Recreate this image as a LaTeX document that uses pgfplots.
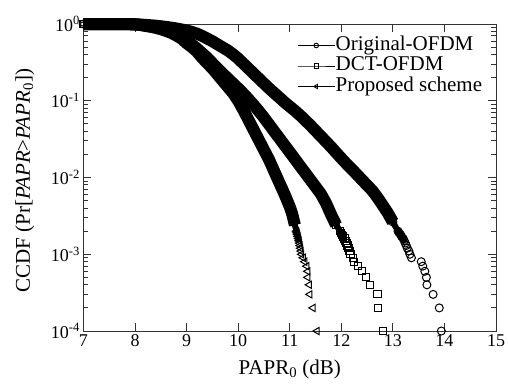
\documentclass[border=0pt]{standalone}
\usepackage{fontspec}
\setmainfont{Liberation Serif}
\usepackage{pgfplots}
\pgfplotsset{compat=1.18}
\usepackage{pgfplotstable}
\usetikzlibrary{calc}

% Original-OFDM
\pgfplotstableread{
x y
7.0 1.0
7.1 1.0
7.2 1.0
7.3 1.0
7.4 1.0
7.5 1.0
7.6 0.999
7.7 0.999
7.8 0.998
7.9 0.996
8.0 0.993
8.1 0.985
8.2 0.973
8.3 0.963
8.4 0.951
8.5 0.935
8.6 0.916
8.7 0.897
8.8 0.875
8.9 0.850
9.0 0.822
9.1 0.790
9.2 0.750
9.3 0.700
9.4 0.646
9.5 0.596
9.6 0.543
9.7 0.495
9.8 0.452
9.9 0.403
10.0 0.355
10.1 0.305
10.2 0.263
10.3 0.226
10.4 0.195
10.5 0.168
10.6 0.145
10.7 0.126
10.8 0.110
10.9 0.0955
11.0 0.0841
11.1 0.0741
11.2 0.0646
11.3 0.0556
11.4 0.0479
11.5 0.0407
11.6 0.0347
11.7 0.0295
11.8 0.0251
11.9 0.0211
12.0 0.0178
12.1 0.0151
12.2 0.0129
12.3 0.0110
12.4 0.00933
12.5 0.00794
12.6 0.00676
12.7 0.00550
12.8 0.00437
12.9 0.00347
13.0 0.00263
}\origbulk
\pgfplotstableread{
x y
13.10 0.0020
13.12 0.0019
13.15 0.0018
13.17 0.0017
13.20 0.0016
13.22 0.0015
13.24 0.0014
13.26 0.0013
13.28 0.0012
13.31 0.0011
13.33 0.0010
13.36 0.0009
13.55 0.0008
13.58 0.0007
13.62 0.0006
13.65 0.0005
13.66 0.0004
13.78 0.0003
13.90 0.0002
13.94 0.0001
}\origtail

% DCT-OFDM
\pgfplotstableread{
x y
7.0 1.0
7.1 1.0
7.2 1.0
7.3 1.0
7.4 1.0
7.5 1.0
7.6 1.0
7.7 0.999
7.8 0.997
7.9 0.994
8.0 0.985
8.1 0.975
8.2 0.955
8.3 0.933
8.4 0.912
8.5 0.883
8.6 0.851
8.7 0.813
8.8 0.767
8.9 0.692
9.0 0.617
9.1 0.543
9.2 0.479
9.3 0.417
9.4 0.363
9.5 0.309
9.6 0.263
9.7 0.226
9.8 0.195
9.9 0.168
10.0 0.145
10.1 0.124
10.2 0.105
10.3 0.0881
10.4 0.0733
10.5 0.0603
10.6 0.0490
10.7 0.0398
10.8 0.0324
10.9 0.0263
11.0 0.0214
11.1 0.0174
11.2 0.0141
11.3 0.0115
11.4 0.00933
11.5 0.00759
11.6 0.00617
11.7 0.00468
11.8 0.00331
11.9 0.00240
}\dctbulk
\pgfplotstableread{
x y
11.98 0.0020
12.00 0.0019
12.02 0.0018
12.04 0.0017
12.06 0.0016
12.08 0.0015
12.10 0.0014
12.12 0.0013
12.14 0.0012
12.16 0.0011
12.18 0.0010
12.22 0.0009
12.25 0.0008
12.33 0.0007
12.40 0.0006
12.48 0.0005
12.56 0.0004
12.70 0.0003
12.71 0.0002
12.81 0.0001
}\dcttail

% Proposed scheme
\pgfplotstableread{
x y
7.0 1.0
7.1 1.0
7.2 1.0
7.3 1.0
7.4 1.0
7.5 1.0
7.6 1.0
7.7 0.999
7.8 0.997
7.9 0.993
8.0 0.985
8.1 0.972
8.2 0.944
8.3 0.920
8.4 0.891
8.5 0.856
8.6 0.813
8.7 0.767
8.8 0.708
8.9 0.646
9.0 0.562
9.1 0.501
9.2 0.437
9.3 0.363
9.4 0.309
9.5 0.263
9.6 0.219
9.7 0.182
9.8 0.151
9.9 0.126
10.0 0.100
10.1 0.0759
10.2 0.0562
10.3 0.0417
10.4 0.0309
10.5 0.0229
10.6 0.0170
10.7 0.0120
10.8 0.00851
10.9 0.00603
11.0 0.00417
11.05 0.00330
11.1 0.00240
}\propbulk
\pgfplotstableread{
x y
11.13 0.0020
11.14 0.0019
11.15 0.0018
11.16 0.0017
11.17 0.0016
11.18 0.0015
11.19 0.0014
11.20 0.0013
11.21 0.0012
11.22 0.0011
11.23 0.0010
11.26 0.0009
11.29 0.0008
11.33 0.0007
11.35 0.0006
11.35 0.0005
11.38 0.0004
11.39 0.0003
11.45 0.0002
11.53 0.0001
}\proptail

\begin{document}
\begin{tikzpicture}[font=\fontsize{21}{24}\selectfont]
\begin{axis}[
  scale only axis, width=412.5pt, height=307pt,
  xmin=7, xmax=15, ymin=1e-4, ymax=1,
  ymode=log,
  clip=false,
  xtick={7,8,9,10,11,12,13,14,15},
  xticklabels={7,8,9,10,11,12,13,14,15},
  ytick={1e-4,1e-3,1e-2,1e-1,1},
  yticklabels={10\textsuperscript{-4},10\textsuperscript{-3},10\textsuperscript{-2},10\textsuperscript{-1},10\textsuperscript{0}},
  minor ytick={2e-4,3e-4,4e-4,5e-4,6e-4,7e-4,8e-4,9e-4,2e-3,3e-3,4e-3,5e-3,6e-3,7e-3,8e-3,9e-3,2e-2,3e-2,4e-2,5e-2,6e-2,7e-2,8e-2,9e-2,2e-1,3e-1,4e-1,5e-1,6e-1,7e-1,8e-1,9e-1},
  ticklabel style={font=\fontsize{18}{20}\selectfont},
  tick align=inside,
  major tick length=8pt, minor tick length=5pt,
  tick style={line width=0.9pt, color=black!80},
  axis line style={line width=1pt, color=black!80},
  xlabel={PAPR\textsubscript{0} (dB)},
  xlabel style={yshift=-6pt},
  ylabel={CCDF (Pr[\textit{PAPR}>\textit{PAPR}\textsubscript{0}])},
  ylabel style={at={(axis description cs:-0.142,0.49)}, anchor=center},
  legend cell align=left,
  legend style={at={(0.968,0.964)}, anchor=north east, draw=none, fill=none,
    font=\fontsize{21}{24}\selectfont, row sep=0pt, inner sep=0pt,
    nodes={text height=14.5pt, text depth=5pt, inner sep=0.5pt}},
  legend image code/.code={\draw[mark repeat=2,mark phase=2,#1] plot coordinates {(0cm,0cm) (0.65cm,0cm) (1.3cm,0cm)};},
]
\addlegendimage{black, line width=0.9pt, mark=o, mark size=2.3pt}
\addlegendimage{black, line width=0.9pt, mark=square, mark size=2.1pt}
\addlegendimage{black, line width=0.9pt, mark=triangle, mark size=2.5pt, mark options={rotate=90}}

% dense bands
\addplot[forget plot, black, line width=12pt, line join=round, line cap=butt] table {\origbulk};
\addplot[forget plot, black, line width=12pt, line join=round, line cap=butt] table {\dctbulk};
\addplot[forget plot, black, line width=12pt, line join=round, line cap=butt] table {\propbulk};
% tapering of the dense bands into the tails
\addplot[forget plot, black, line width=6pt, line join=round, line cap=round] coordinates {(13.0,0.00263)(13.10,0.0020)(13.12,0.0019)(13.15,0.0018)(13.17,0.0017)(13.20,0.0016)(13.22,0.0015)};
\addplot[forget plot, black, line width=6pt, line join=round, line cap=round] coordinates {(11.9,0.00240)(11.98,0.0020)(12.00,0.0019)(12.02,0.0018)(12.04,0.0017)(12.06,0.0016)};
\addplot[forget plot, black, line width=6pt, line join=round, line cap=round] coordinates {(11.1,0.00240)(11.13,0.0020)(11.14,0.0019)(11.15,0.0018)(11.16,0.0017)(11.17,0.0016)};
% markers
\addplot[forget plot, only marks, black, mark=o, mark size=4pt, mark options={line width=1pt}] table {\origbulk};
\addplot[forget plot, only marks, black, mark=o, mark size=4pt, mark options={line width=1pt}] table {\origtail};
\addplot[forget plot, only marks, black, mark=square, mark size=3.6pt, mark options={line width=1pt}] table {\dctbulk};
\addplot[forget plot, only marks, black, mark=square, mark size=3.6pt, mark options={line width=1pt}] table {\dcttail};
\addplot[forget plot, only marks, black, mark=triangle, mark size=4.2pt, mark options={rotate=90, line width=1pt}] table {\propbulk};
\addplot[forget plot, only marks, black, mark=triangle, mark size=4.2pt, mark options={rotate=90, line width=1pt}] table {\proptail};
\legend{Original-OFDM, DCT-OFDM, Proposed scheme}
\coordinate (BL) at (rel axis cs:0,0);
\coordinate (TR) at (rel axis cs:1,1);
\end{axis}
\pgfresetboundingbox
\path ($(BL)+(-83.5pt,-52pt)$) rectangle ($(TR)+(12pt,24pt)$);
\end{tikzpicture}
\end{document}
